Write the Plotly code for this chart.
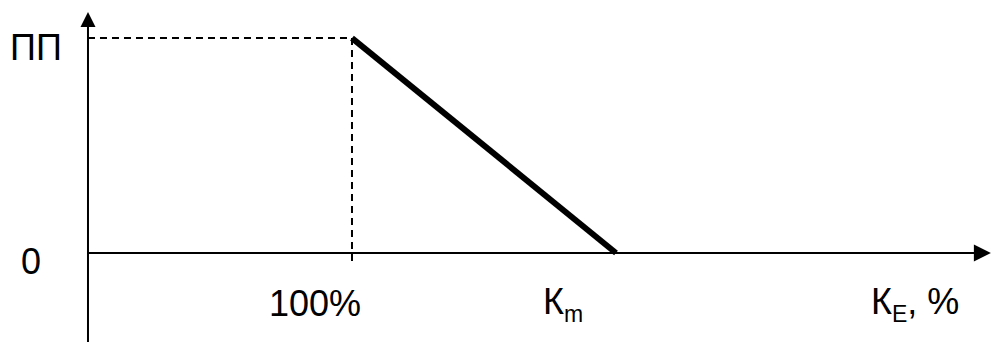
import plotly.graph_objects as go

# Schematic data (x in %, y in units of ПП)
line_x = [100, 200]          # 100% -> Кm
line_y = [1, 0]              # ПП -> 0
guide_h_x = [0, 100]
guide_h_y = [1, 1]
guide_v_x = [100, 100]
guide_v_y = [1, -0.042]

sub_style = "font-size:23px"
label_texts = ["ПП", "0", "100%",
               "К<sub><span style='%s'>m</span></sub>" % sub_style,
               "К<sub><span style='%s'>E</span></sub>, %%" % sub_style]
label_x = [-19.7, -21.6, 86.0, 171.6, 295.8]
label_y = [0.958, -0.04, -0.235, -0.235, -0.235]
label_anchor = ["center", "center", "center", "left", "left"]

x_range = [-33.33, 342.05]
y_range = [-0.414, 1.177]
y_axis_x = [0, 0]
y_axis_y = [-0.414, 1.06]
y_axis_tip = 1.121
x_axis_x = [0, 339]
x_axis_y = [0, 0]
x_axis_tip = 342.0

fig = go.Figure()

# axes
fig.add_trace(go.Scatter(x=y_axis_x, y=y_axis_y, mode="lines",
                         line=dict(color="black", width=2), hoverinfo="skip"))
fig.add_trace(go.Scatter(x=x_axis_x, y=x_axis_y, mode="lines",
                         line=dict(color="black", width=2), hoverinfo="skip"))
fig.add_trace(go.Scatter(x=[0], y=[y_axis_tip], mode="markers", cliponaxis=False,
                         marker=dict(symbol="arrow-up", size=15, color="black",
                                     line=dict(width=0)), hoverinfo="skip"))
fig.add_trace(go.Scatter(x=[x_axis_tip], y=[0], mode="markers", cliponaxis=False,
                         marker=dict(symbol="arrow-right", size=17, color="black",
                                     line=dict(width=0)), hoverinfo="skip"))

fig.add_trace(go.Scatter(x=guide_h_x, y=guide_h_y, mode="lines",
                         line=dict(color="black", width=2, dash="7px,5px"),
                         hoverinfo="skip"))
fig.add_trace(go.Scatter(x=guide_v_x, y=guide_v_y, mode="lines",
                         line=dict(color="black", width=2, dash="7px,5px"),
                         hoverinfo="skip"))
fig.add_trace(go.Scatter(x=line_x, y=line_y, mode="lines",
                         line=dict(color="black", width=6),
                         hoverinfo="skip"))

annotations = []
for t, x, y, a in zip(label_texts, label_x, label_y, label_anchor):
    annotations.append(dict(x=x, y=y, xref="x", yref="y", text=t, showarrow=False,
                            xanchor=a, yanchor="middle",
                            font=dict(family="Liberation Sans, Arial", size=36, color="black")))

fig.update_layout(
    width=991, height=342,
    margin=dict(l=0, r=0, t=0, b=0),
    paper_bgcolor="white", plot_bgcolor="white",
    showlegend=False,
    xaxis=dict(range=x_range, visible=False, fixedrange=True),
    yaxis=dict(range=y_range, visible=False, fixedrange=True),
    annotations=annotations,
)

fig.write_html("out.html", config={"displayModeBar": False},
               post_script="document.body.style.margin='0';document.body.style.overflow='hidden';")
